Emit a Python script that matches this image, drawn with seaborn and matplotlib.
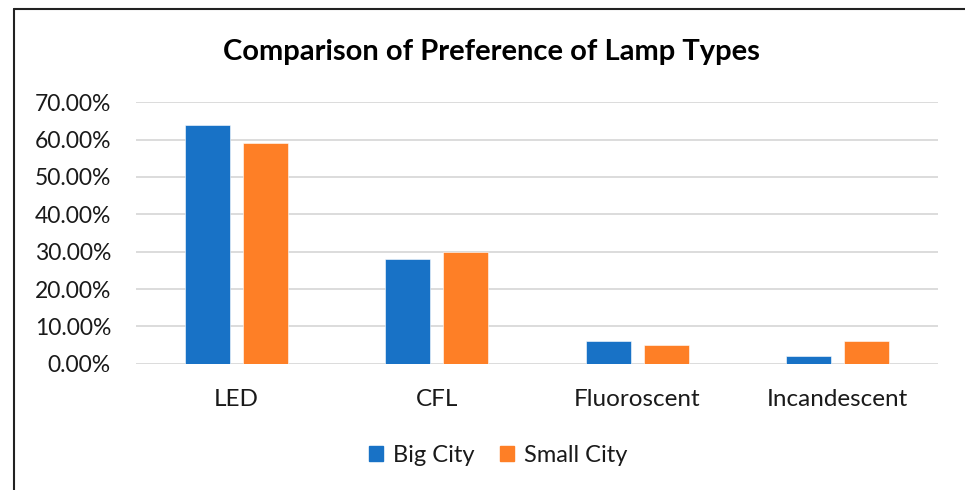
import pandas as pd
import seaborn as sns
import matplotlib.pyplot as plt
from matplotlib.lines import Line2D
from matplotlib.ticker import PercentFormatter

lamp_types = ["LED", "CFL", "Fluoroscent", "Incandescent"]
big_city = [0.638, 0.281, 0.060, 0.020]
small_city = [0.592, 0.299, 0.050, 0.060]
series = ["Big City", "Small City"]
colors = ["#1872C6", "#FE7F26"]

df = pd.DataFrame({
    "Lamp": lamp_types * 2,
    "Share": big_city + small_city,
    "City": [series[0]] * len(lamp_types) + [series[1]] * len(lamp_types),
})

sns.set_style("white")
plt.rcParams["font.family"] = ["Lato", "DejaVu Sans"]

fig = plt.figure(figsize=(9.65, 4.9), dpi=100)
ax = fig.add_axes([136 / 965, 1 - 363.7 / 490, 802 / 965, (363.7 - 102.3) / 490])

sns.barplot(data=df, x="Lamp", y="Share", hue="City", order=lamp_types,
            hue_order=series, palette=colors, saturation=1, width=0.579, gap=0.224,
            edgecolor="#FFFFFF", linewidth=0.4, ax=ax, legend=True)

ax.set_ylim(0, 0.7)
ax.set_xlim(-0.5, 3.5)
ax.set_yticks([i / 10 for i in range(8)])
ax.yaxis.set_major_formatter(PercentFormatter(1.0, decimals=2))
ax.grid(axis="y", color="#D9D9D9", linewidth=1.3)
ax.set_axisbelow(True)
for s in ax.spines.values():
    s.set_visible(False)
ax.tick_params(axis="y", length=0, pad=18, labelsize=16.5, labelcolor="#1a1a1a")
ax.tick_params(axis="x", length=0, pad=18, labelsize=17.5, labelcolor="#1a1a1a")
ax.set_xlabel("")
ax.set_ylabel("")

ax.legend_.remove()
handles = [plt.Rectangle((0, 0), 1, 1, color=c) for c in colors]
fig.legend(handles, series, loc="center", bbox_to_anchor=(498 / 965, 1 - 455 / 490),
           ncol=2, frameon=False, fontsize=17, handlelength=0.6, handleheight=0.6,
           handletextpad=0.4, columnspacing=1.1, labelcolor="#1a1a1a")

fig.text(491 / 965, 1 - 52 / 490, "Comparison of Preference of Lamp Types",
         ha="center", va="center", fontsize=21, fontweight="bold", color="black")

# outer chart frame (left and top edges visible)
fig.add_artist(Line2D([14 / 965, 14 / 965], [0, 1 - 9.5 / 490], color="#222222",
                      linewidth=1.5, transform=fig.transFigure))
fig.add_artist(Line2D([14 / 965, 1], [1 - 9.5 / 490, 1 - 9.5 / 490], color="#222222",
                      linewidth=1.5, transform=fig.transFigure))

fig.savefig("out.png", dpi=100)
